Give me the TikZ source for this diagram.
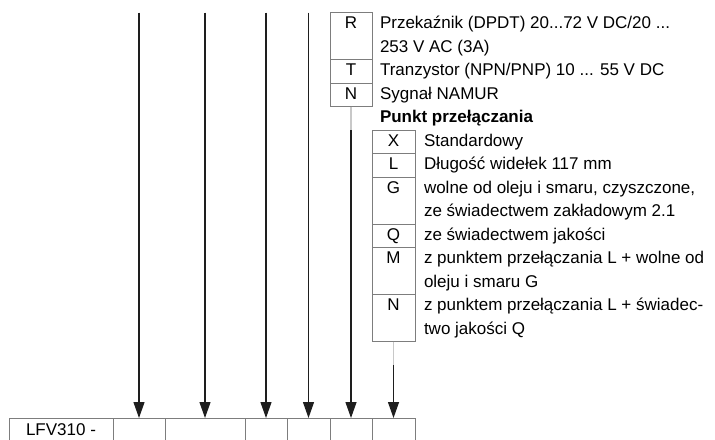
\documentclass[tikz,border=0pt]{standalone}
\usepackage{fontspec}
\setmainfont{Liberation Sans}
\usetikzlibrary{arrows.meta}
\definecolor{framegray}{RGB}{125,125,125}
\definecolor{stubgray}{RGB}{200,200,200}
\definecolor{inkblack}{RGB}{30,30,30}
\begin{document}
\begin{tikzpicture}[x=0.5pt,y=-0.5pt,
  every node/.style={font=\fontsize{8.5}{11.75}\selectfont, inner sep=0pt, outer sep=0pt},
  cell/.style={draw=framegray, line width=0.5pt, anchor=north west, minimum height=40pt},
  codebox/.style={draw=framegray, line width=0.5pt, anchor=north west},
  code/.style={anchor=north},
  desc/.style={anchor=north west, align=left},
  feed/.style={inkblack, line width=0.6pt, -{Triangle[width=5.5pt,length=8pt]}},
  stub/.style={stubgray, line width=0.6pt}]
\useasboundingbox (0,0) rectangle (715,439);

\node[cell, minimum width=52pt] (c1) at (9,418) {};
\node[cell, minimum width=26pt] (c2) at (113,418) {};
\node[cell, minimum width=40pt] (c3) at (165,418) {};
\node[cell, minimum width=21pt] (c4) at (245,418) {};
\node[cell, minimum width=21.5pt] (c5) at (287,418) {};
\node[cell, minimum width=21pt] (c6) at (330,418) {};
\node[cell, minimum width=21.5pt] (c7) at (372,418) {};
\node[code] (lfv) at ([yshift=-0.75pt]c1.north) {\strut LFV310 -};

\node[codebox, minimum width=21pt, minimum height=23.5pt] (boxR) at (330,12.5) {};
\node[codebox, minimum width=21pt, minimum height=11.75pt] (boxT) at (330,59.5) {};
\node[codebox, minimum width=21pt, minimum height=11.75pt] (boxN) at (330,83) {};
\node[code] (keyR) at (boxR.north) {\strut R};
\node[code] (keyT) at (boxT.north) {\strut T};
\node[code] (keyN) at (boxN.north) {\strut N};
\node[desc] (txtR) at (380,12.5) {\strut Przekaźnik (DPDT) 20...72 V DC/20 ...\\\strut 253 V AC (3A)};
\node[desc] (txtT) at (380,59.5) {\strut Tranzystor (NPN/PNP) 10 ... 55 V DC};
\node[desc] (txtN) at (380,83) {\strut Sygnał NAMUR};

\node[desc] (title) at (380,106.5) {\strut\bfseries Punkt przełączania};

\node[codebox, minimum width=21.5pt, minimum height=11.75pt] (boxX) at (372,130) {};
\node[codebox, minimum width=21.5pt, minimum height=11.75pt] (boxL) at (372,153.5) {};
\node[codebox, minimum width=21.5pt, minimum height=23.5pt] (boxG) at (372,177) {};
\node[codebox, minimum width=21.5pt, minimum height=11.75pt] (boxQ) at (372,224) {};
\node[codebox, minimum width=21.5pt, minimum height=23.5pt] (boxM) at (372,247.5) {};
\node[codebox, minimum width=21.5pt, minimum height=23.5pt] (boxNQ) at (372,294.5) {};
\node[code] (keyX) at (boxX.north) {\strut X};
\node[code] (keyL) at (boxL.north) {\strut L};
\node[code] (keyG) at (boxG.north) {\strut G};
\node[code] (keyQ) at (boxQ.north) {\strut Q};
\node[code] (keyM) at (boxM.north) {\strut M};
\node[code] (keyNQ) at (boxNQ.north) {\strut N};
\node[desc] (txtX) at (424,130) {\strut Standardowy};
\node[desc] (txtL) at (424,153.5) {\strut Długość widełek 117 mm};
\node[desc] (txtG) at (424,177) {\strut wolne od oleju i smaru, czyszczone,\\\strut ze świadectwem zakładowym 2.1};
\node[desc] (txtQ) at (424,224) {\strut ze świadectwem jakości};
\node[desc] (txtM) at (424,247.5) {\strut z punktem przełączania L + wolne od\\\strut oleju i smaru G};
\node[desc] (txtNQ) at (424,294.5) {\strut z punktem przełączania L + świadec-\\\strut two jakości Q};

\coordinate (in2) at (c2.north |- boxR.north);
\coordinate (in3) at (c3.north |- boxR.north);
\coordinate (in4) at (c4.north |- boxR.north);
\coordinate (in5) at (c5.north |- boxR.north);
\draw[feed] (in2) -- (c2.north);
\draw[feed] (in3) -- (c3.north);
\draw[feed] (in4) -- (c4.north);
\draw[feed] (in5) -- (c5.north);
\draw[stub] (boxN.south) -- ++(0,23.5) coordinate (kink6);
\draw[feed] (kink6) -- (c6.north);
\draw[stub] (boxNQ.south) -- ++(0,23.5) coordinate (kink7);
\draw[feed] (kink7) -- (c7.north);
\end{tikzpicture}
\end{document}
